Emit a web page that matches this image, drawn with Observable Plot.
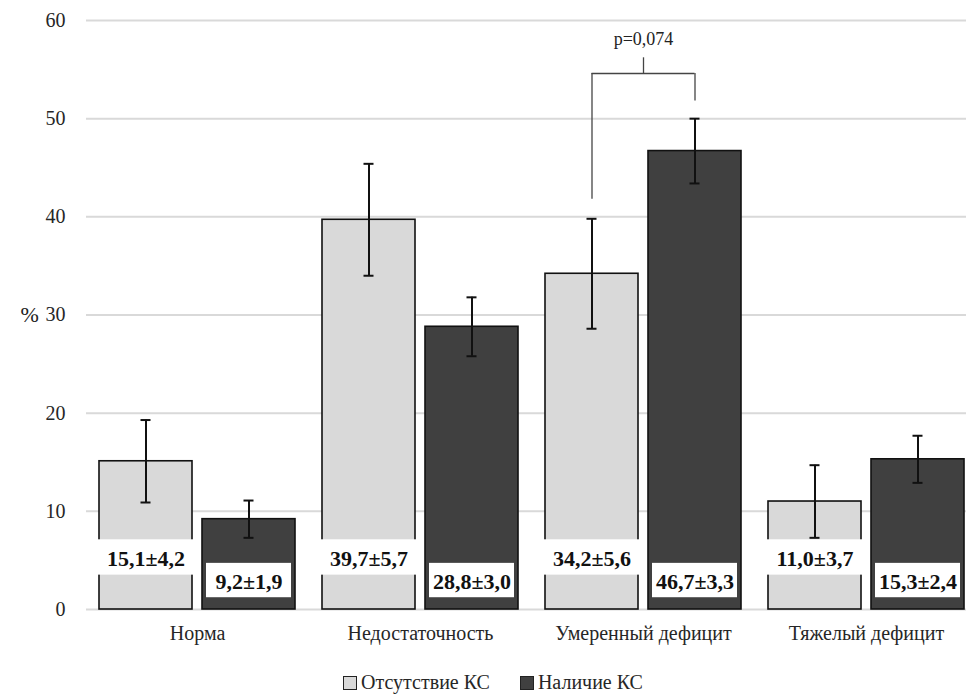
<!DOCTYPE html>
<html><head><meta charset="utf-8">
<script src="https://cdn.jsdelivr.net/npm/d3@7"></script>
<script src="https://cdn.jsdelivr.net/npm/@observablehq/plot@0.6"></script>
<style>
body{margin:0;background:#fff;font-family:"Liberation Serif","Tinos","Times New Roman","DejaVu Serif",serif;}
#legend{display:flex;justify-content:center;align-items:center;gap:30px;font-size:20px;color:#262626;margin-top:16px;padding-left:20px;}
#legend span.item{display:flex;align-items:center;gap:4px;}
#legend span.sw{display:inline-block;width:12px;height:12px;border:1.5px solid #222;}
svg text{font-family:"Liberation Serif","Tinos","Times New Roman","DejaVu Serif",serif;}
</style></head>
<body>
<div id="chart"></div>
<div id="legend"></div>
<script>
const categories = ["Норма", "Недостаточность", "Умеренный дефицит", "Тяжелый дефицит"];
const seriesNames = ["Отсутствие КС", "Наличие КС"];
const absentValues = [15.1, 39.7, 34.2, 11.0];
const absentErrors = [4.2, 5.7, 5.6, 3.7];
const presentValues = [9.2, 28.8, 46.7, 15.3];
const presentErrors = [1.9, 3.0, 3.3, 2.4];
const yTicks = [0, 10, 20, 30, 40, 50, 60];
const pText = "p=0,074";
const pCategory = "Умеренный дефицит";

const colors = ["#d9d9d9", "#404040"];
const fmt = v => v.toFixed(1).replace(".", ",");
const serif = '"Liberation Serif", "Tinos", "Times New Roman", "DejaVu Serif", serif';

const absent = categories.map((c, i) => ({cat: c, v: absentValues[i], e: absentErrors[i], label: fmt(absentValues[i]) + "±" + fmt(absentErrors[i])}));
const present = categories.map((c, i) => ({cat: c, v: presentValues[i], e: presentErrors[i], label: fmt(presentValues[i]) + "±" + fmt(presentErrors[i])}));

const bw = 196, barW = 93, half = 51.5;
const pi = categories.indexOf(pCategory);
const leftBottom = absentValues[pi] + absentErrors[pi] + 2;
const rightBottom = presentValues[pi] + presentErrors[pi] + 1.8;
const bracketY = rightBottom + 2.8;
const pRow = [{cat: pCategory}];

const chart = Plot.plot({
  width: 966, height: 655,
  marginLeft: 86, marginRight: -12, marginTop: 20, marginBottom: 46,
  style: {fontFamily: serif, fontSize: "20px", color: "#262626", background: "#fff"},
  x: {domain: categories, paddingInner: 0.121, paddingOuter: 0.06, label: null, tickSize: 0, tickPadding: 16},
  y: {domain: [0, 60], ticks: yTicks, label: null, tickSize: 0, tickPadding: 21},
  marks: [
    Plot.ruleY(yTicks, {stroke: "#d9d9d9", strokeWidth: 2}),
    Plot.barY(absent, {x: "cat", y: "v", fill: colors[0], stroke: "#111", strokeWidth: 1.6, insetRight: bw - barW}),
    Plot.barY(present, {x: "cat", y: "v", fill: colors[1], stroke: "#111", strokeWidth: 1.6, insetLeft: bw - barW}),
    Plot.ruleX(absent, {x: "cat", y1: d => d.v - d.e, y2: d => d.v + d.e, dx: -half, stroke: "#111", strokeWidth: 2}),
    Plot.ruleX(present, {x: "cat", y1: d => d.v - d.e, y2: d => d.v + d.e, dx: half, stroke: "#111", strokeWidth: 2}),
    Plot.tickY(absent, {x: "cat", y: d => d.v - d.e, insetLeft: 41.5, insetRight: 144.5, stroke: "#111", strokeWidth: 2}),
    Plot.tickY(absent, {x: "cat", y: d => d.v + d.e, insetLeft: 41.5, insetRight: 144.5, stroke: "#111", strokeWidth: 2}),
    Plot.tickY(present, {x: "cat", y: d => d.v - d.e, insetLeft: 144.5, insetRight: 41.5, stroke: "#111", strokeWidth: 2}),
    Plot.tickY(present, {x: "cat", y: d => d.v + d.e, insetLeft: 144.5, insetRight: 41.5, stroke: "#111", strokeWidth: 2}),
    // label boxes
    Plot.barY(absent, {x: "cat", y1: 3.5, y2: 7.1, fill: "#fff", insetLeft: -1, insetRight: bw - barW - 1}),
    Plot.barY(present, {x: "cat", y1: 1.2, y2: 4.7, fill: "#fff", insetLeft: bw - barW + 4, insetRight: 4}),
    Plot.text(absent, {x: "cat", y: 5.2, dx: -half, text: "label", fontWeight: "bold", fontSize: 22, fontFamily: serif, fill: "#111"}),
    Plot.text(present, {x: "cat", y: 2.8, dx: half, text: "label", fontWeight: "bold", fontSize: 22, fontFamily: serif, fill: "#111"}),
    // significance bracket
    Plot.ruleX(pRow, {x: "cat", dx: -half, y1: leftBottom, y2: bracketY, stroke: "#444", strokeWidth: 1.3}),
    Plot.ruleX(pRow, {x: "cat", dx: half, y1: rightBottom, y2: bracketY, stroke: "#444", strokeWidth: 1.3}),
    Plot.ruleY(pRow, {x1: "cat", x2: "cat", y: bracketY, insetLeft: bw / 2 - half, insetRight: bw / 2 - half, stroke: "#444", strokeWidth: 1.3}),
    Plot.ruleX(pRow, {x: "cat", y1: bracketY, y2: bracketY + 1.6, stroke: "#444", strokeWidth: 1.3}),
    Plot.text(pRow, {x: "cat", y: bracketY + 3.5, text: () => pText, fontSize: 18, fontFamily: serif, fill: "#222"}),
    Plot.text(["%"], {frameAnchor: "left", dx: -66, y: 30, text: d => d, fontSize: 22, fontFamily: serif, fill: "#222"})
  ]
});
document.getElementById("chart").appendChild(chart);

const legend = document.getElementById("legend");
seriesNames.forEach((n, i) => {
  const it = document.createElement("span");
  it.className = "item";
  const sw = document.createElement("span");
  sw.className = "sw";
  sw.style.background = colors[i];
  it.appendChild(sw);
  it.appendChild(document.createTextNode(n));
  legend.appendChild(it);
});
</script>
</body></html>
